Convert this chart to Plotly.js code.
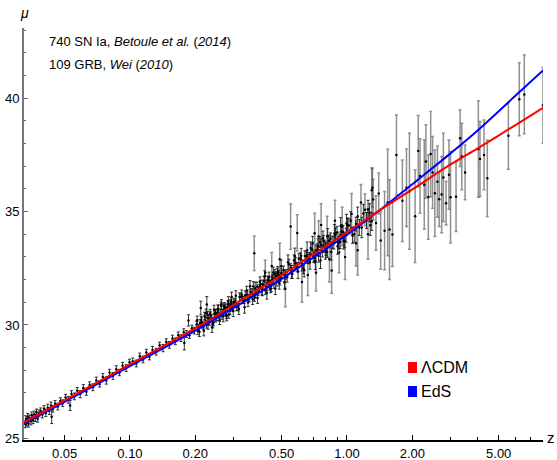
<!DOCTYPE html>
<html><head><meta charset="utf-8">
<script src="https://cdn.plot.ly/plotly-3.0.1.min.js"></script>
<style>html,body{margin:0;padding:0;background:#fff}</style>
</head><body><div id="chart" style="width:557px;height:460px"></div>
<script>
// ---- model curves ----
const curveZ   = [0.0322,0.05,0.1,0.2,0.3,0.5,0.7,1.0,1.3,1.5,2,3,4,6,8];
const lcdmMu   = [25.69,26.67,28.26,29.86,30.88,32.20,33.12,34.09,34.82,35.22,35.98,37.08,37.79,38.83,39.58];
const edsMu    = [25.64,26.61,28.18,29.75,30.75,32.03,32.98,33.98,34.80,35.25,36.21,37.57,38.58,40.13,41.23];

// ---- SN Ia (Betoule et al. 2014) ----
const snZ = [0.0330,0.0332,0.0335,0.0338,0.0341,0.0345,0.0350,0.0353,0.0358,0.0362,0.0367,0.0371,0.0376,0.0381,0.0388,0.0395,0.0402,0.0410,0.0418,0.0425,0.0433,0.0436,0.0442,0.0452,0.0465,0.0478,0.0490,0.0505,0.0520,0.0530,0.0538,0.0555,0.0572,0.0590,0.0610,0.0630,0.0652,0.0675,0.0700,0.0725,0.0750,0.0778,0.0805,0.0835,0.0865,0.0895,0.0925,0.0960,0.0995,
0.103,0.107,0.111,0.115,0.119,0.123,0.127,0.132,0.137,0.142,0.147,0.152,0.157,0.162,0.167,0.172,0.177,0.178,0.182,0.186,0.188,0.193,0.198,
0.203,0.208,0.212,0.213,0.218,0.223,0.226,0.228,0.233,0.238,0.243,0.248,0.253,0.258,0.263,0.268,0.273,0.278,0.283,0.288,0.293,0.298,
0.2055,0.2105,0.2155,0.2205,0.2255,0.2305,0.2355,0.2405,0.2455,0.2505,0.2555,0.2605,0.2655,0.2705,0.2755,0.2805,0.2855,0.2905,0.2955,0.3005,
0.305,0.315,0.325,0.335,0.345,0.355,0.365,0.375,0.385,0.395,0.405,0.415,0.425,0.435,0.445,0.455,0.465,0.475,0.485,0.495,
0.310,0.320,0.330,0.340,0.350,0.360,0.370,0.380,0.390,0.400,0.410,0.420,0.430,0.440,0.450,0.460,0.470,0.480,0.490,0.500,
0.51,0.53,0.55,0.57,0.59,0.61,0.63,0.65,0.67,0.69,0.71,0.73,0.75,0.77,0.79,0.81,0.84,0.87,0.90,0.93,0.96,0.99,
0.52,0.54,0.56,0.58,0.60,0.62,0.64,0.66,0.68,0.70,0.72,0.74,0.76,0.78,0.80,0.825,0.855,0.885,0.915,0.945,0.975,1.005,
1.02,1.06,1.10,1.14,1.19,1.23,1.27,1.30,
0.204,0.209,0.214,0.219,0.224,0.229,0.234,0.239,0.244,0.249,0.254,0.259,0.264,0.269,0.274,0.279,0.284,0.289,0.294,0.299,
0.3075,0.3175,0.3275,0.3375,0.3475,0.3575,0.3675,0.3775,0.3875,0.3975,0.4075,0.4175,0.4275,0.4375,0.4475,0.4575,0.4675,0.4775,0.4875,0.4975,
0.515,0.535,0.555,0.575,0.595,0.615,0.635,0.655,0.675,0.695,0.715,0.735,0.755,0.775,0.795,0.815,0.845,0.875,0.905,0.935,0.965,0.995,
1.04,1.08,1.12,1.17,1.25,1.28];
const snMu = [25.62,25.85,25.70,25.95,25.64,25.88,25.75,26.02,25.80,26.05,25.90,26.15,25.86,26.10,26.20,26.05,26.30,26.12,26.35,26.20,26.45,25.95,26.30,26.52,26.40,26.65,26.55,26.80,26.70,26.45,26.95,26.85,27.10,26.95,27.22,27.05,27.35,27.25,27.55,27.40,27.70,27.55,27.90,27.75,28.05,27.90,28.20,28.10,28.35,
28.40,28.30,28.62,28.48,28.78,28.60,28.90,28.82,29.10,28.98,29.25,29.12,29.40,29.28,29.55,29.42,29.68,29.20,29.60,30.20,29.55,29.85,29.75,
30.02,29.88,30.75,30.22,29.93,30.18,30.90,30.44,30.14,30.31,30.12,30.55,30.53,30.32,30.85,30.54,30.74,30.44,30.91,30.76,31.04,30.74,
29.73,30.09,30.00,30.39,30.01,30.28,30.43,30.04,30.49,30.35,30.72,30.51,30.42,30.82,30.57,30.77,30.46,30.95,30.79,30.99,
31.02,30.80,31.24,31.11,31.52,31.19,31.42,31.20,31.70,31.61,31.50,31.94,31.70,31.96,31.60,32.02,32.26,31.89,32.20,32.13,
30.80,31.23,31.10,31.31,30.99,31.42,31.71,31.38,31.50,31.80,31.78,31.53,31.97,31.75,31.97,31.81,32.16,32.36,31.95,32.26,
32.40,32.11,32.51,32.86,32.55,32.94,32.48,33.02,32.95,33.33,32.96,33.32,33.66,33.23,33.47,33.22,33.80,33.63,34.08,33.67,34.10,33.96,
32.23,32.67,32.25,32.73,32.92,32.63,33.04,32.92,33.40,33.01,33.29,33.04,33.54,33.71,33.35,33.71,33.65,33.99,33.63,34.12,33.70,34.40,
34.39,33.95,34.45,34.30,34.92,34.61,34.95,34.57,
30.21,29.69,30.13,29.74,30.52,30.02,30.50,29.90,30.67,30.31,30.66,30.21,30.91,30.38,30.80,30.38,31.02,30.64,31.23,30.62,
31.29,30.70,31.33,30.78,31.31,31.71,31.12,31.62,31.19,31.91,31.55,32.16,31.42,32.11,31.72,32.31,31.61,32.27,31.84,32.59,
31.88,32.77,32.34,33.04,32.36,33.05,32.41,33.30,32.78,33.61,32.81,33.47,32.84,33.83,33.28,33.91,33.22,34.03,33.47,34.36,33.72,34.48,
34.60,34.00,34.80,34.30,35.10,34.40];
const snErr = [0.15,0.14,0.16,0.15,0.14,0.15,0.16,0.14,0.15,0.15,0.16,0.14,0.15,0.15,0.14,0.15,0.14,0.16,0.15,0.15,0.15,0.30,0.14,0.15,0.15,0.14,0.15,0.14,0.15,0.22,0.15,0.15,0.14,0.16,0.15,0.15,0.14,0.15,0.15,0.14,0.15,0.16,0.14,0.15,0.15,0.14,0.15,0.15,0.14,
0.14,0.15,0.14,0.15,0.15,0.14,0.15,0.15,0.14,0.16,0.14,0.15,0.15,0.15,0.14,0.15,0.15,0.30,0.15,0.25,0.14,0.14,0.15,
0.14,0.15,0.30,0.16,0.14,0.15,0.35,0.16,0.15,0.14,0.16,0.15,0.17,0.15,0.16,0.14,0.15,0.16,0.17,0.15,0.16,0.15,
0.16,0.15,0.14,0.17,0.15,0.16,0.15,0.17,0.16,0.15,0.16,0.14,0.17,0.15,0.16,0.15,0.17,0.16,0.15,0.16,
0.16,0.18,0.17,0.16,0.19,0.17,0.18,0.16,0.19,0.17,0.18,0.20,0.17,0.19,0.18,0.20,0.19,0.18,0.21,0.19,
0.17,0.18,0.16,0.19,0.18,0.17,0.20,0.18,0.19,0.17,0.20,0.19,0.18,0.21,0.19,0.20,0.18,0.22,0.19,0.21,
0.20,0.22,0.19,0.23,0.21,0.24,0.22,0.20,0.25,0.23,0.22,0.26,0.24,0.23,0.27,0.25,0.26,0.28,0.27,0.30,0.28,0.31,
0.21,0.23,0.20,0.24,0.22,0.25,0.23,0.21,0.26,0.24,0.23,0.27,0.25,0.24,0.28,0.26,0.27,0.29,0.28,0.31,0.29,0.32,
0.30,0.35,0.30,0.35,0.40,0.35,0.40,0.40,
0.18,0.20,0.19,0.22,0.18,0.21,0.19,0.23,0.20,0.18,0.22,0.19,0.21,0.24,0.18,0.20,0.23,0.19,0.22,0.25,
0.22,0.24,0.21,0.26,0.23,0.25,0.22,0.27,0.24,0.21,0.26,0.23,0.28,0.22,0.25,0.24,0.27,0.23,0.26,0.28,
0.30,0.32,0.28,0.35,0.31,0.33,0.29,0.36,0.32,0.30,0.37,0.33,0.35,0.31,0.38,0.34,0.36,0.40,0.35,0.38,0.37,0.40,
0.40,0.35,0.40,0.45,0.40,0.45];

// ---- GRB (Wei 2010) ----
const grbZ  = [0.374,0.42,0.45,0.49,0.52,0.55,0.59,0.62,0.66,0.71,0.72,0.74,0.76,0.81,0.83,0.85,0.88,0.92,0.95,0.98,1.05,1.10,1.12,1.16,1.21,1.25,1.30,1.31,1.32,1.36,1.40,1.43,1.49,1.54,1.57,1.62,1.69,1.80,1.88,1.94,2.06,2.13,2.17,2.27,2.31,2.37,2.43,2.48,2.54,2.61,2.66,2.73,2.78,2.86,2.95,3.00,3.18,3.32,3.38,3.50,4.03,4.10,4.28,4.43,5.54,6.22,6.56,8.00];
const grbMu = [33.16,32.30,32.60,32.90,31.60,34.34,34.06,31.90,32.20,34.05,32.30,33.90,34.41,33.90,32.90,32.40,34.60,33.20,34.34,33.00,34.90,33.60,33.30,35.40,35.08,34.00,35.94,36.05,35.53,34.50,35.80,33.73,34.16,35.40,34.21,33.99,37.50,35.48,36.05,35.90,34.80,37.67,36.57,36.19,37.21,35.64,37.54,36.73,35.81,36.32,35.55,35.75,36.51,35.37,36.63,35.63,35.66,38.24,37.43,36.73,37.76,37.32,37.50,36.47,38.35,39.96,40.17,39.69];
const grbErr= [0.76,0.55,0.60,0.70,0.80,1.00,0.80,0.90,0.90,0.88,0.80,0.70,0.94,0.90,1.00,1.00,0.90,0.90,0.85,1.00,0.90,1.00,1.10,0.80,0.70,1.10,1.00,0.85,0.90,1.20,0.90,1.27,1.73,2.35,2.20,1.41,1.76,1.80,1.71,2.56,2.04,1.57,1.64,1.97,1.62,1.86,1.88,1.58,1.91,1.57,1.21,1.68,1.95,0.96,1.53,2.02,1.54,1.25,1.47,1.21,2.13,1.65,1.54,1.69,1.48,1.61,1.74,1.67];

const xTickVals = [0.05,0.1,0.2,0.5,1,2,5];
const xTickText = ['0.05','0.10','0.20','0.50','1.00','2.00','5.00'];
const xMinorVals = [0.04,0.06,0.07,0.08,0.09,0.3,0.4,0.6,0.7,0.8,0.9,3,4,6,7,8];
const yTickVals = [25,30,35,40];

const traces = [
  {x: grbZ, y: grbMu, type:'scatter', mode:'markers',
   marker:{color:'#000', size:2.5},
   error_y:{type:'data', array:grbErr, visible:true, color:'rgba(70,70,70,0.6)', thickness:1.5, width:1.5}},
  {x: snZ, y: snMu, type:'scatter', mode:'markers',
   marker:{color:'#000', size:2.5},
   error_y:{type:'data', array:snErr, visible:true, color:'rgba(15,15,15,0.85)', thickness:1, width:1.5}},
  {x: curveZ, y: edsMu, type:'scatter', mode:'lines', line:{color:'#0000ff', width:2, shape:'spline'}},
  {x: curveZ, y: lcdmMu, type:'scatter', mode:'lines', line:{color:'#ff0000', width:2, shape:'spline'}}
];

const W=557, H=460, L=24, R=14, T=28, B=20;
const pw=W-L-R, ph=H-T-B;
const px = v => (v-L)/pw, py = v => (H-B-v)/ph;

const layout = {
  width:W, height:H, margin:{l:L, r:R, t:T, b:B, pad:0},
  paper_bgcolor:'#fff', plot_bgcolor:'#fff', showlegend:false,
  font:{family:'Liberation Sans, Arial, sans-serif', size:13, color:'#000'},
  xaxis:{type:'log', range:[Math.log10(0.0325), Math.log10(8.0)],
    tickmode:'array', tickvals:xTickVals, ticktext:xTickText,
    ticks:'inside', ticklen:5, tickwidth:1, tickcolor:'#000',
    showline:true, linecolor:'#000', linewidth:2, showgrid:false, zeroline:false,
    minor:{tickmode:'array', tickvals:xMinorVals, ticks:'inside', ticklen:3, tickwidth:1, tickcolor:'#000', showgrid:false},
    tickfont:{size:13}},
  yaxis:{range:[24.925, 43.1], tickmode:'array', tickvals:yTickVals,
    ticks:'inside', ticklen:4, tickwidth:1, tickcolor:'#666',
    showline:true, linecolor:'#777', linewidth:2, showgrid:false, zeroline:false,
    minor:{dtick:1, ticks:'inside', ticklen:2, tickwidth:1, tickcolor:'#666', showgrid:false},
    tickfont:{size:13}},
  shapes:[
    {type:'rect', xref:'paper', yref:'paper', x0:px(408), x1:px(417), y0:py(373), y1:py(362), fillcolor:'#ff0000', line:{width:0}},
    {type:'rect', xref:'paper', yref:'paper', x0:px(408), x1:px(417), y0:py(397), y1:py(386), fillcolor:'#0000ff', line:{width:0}}
  ],
  annotations:[
    {xref:'paper', yref:'paper', x:px(47), y:py(42), xanchor:'left', yanchor:'middle', showarrow:false,
     text:'740 SN Ia, <i>Betoule et al.</i> (<i>2014</i>)', font:{size:13}},
    {xref:'paper', yref:'paper', x:px(47), y:py(65), xanchor:'left', yanchor:'middle', showarrow:false,
     text:'109 GRB, <i>Wei</i> (<i>2010</i>)', font:{size:13}},
    {xref:'paper', yref:'paper', x:px(419), y:py(367), xanchor:'left', yanchor:'middle', showarrow:false,
     text:'ΛCDM', font:{size:16}},
    {xref:'paper', yref:'paper', x:px(419), y:py(391), xanchor:'left', yanchor:'middle', showarrow:false,
     text:'EdS', font:{size:16}},
    {xref:'paper', yref:'paper', x:px(24), y:py(13), xanchor:'center', yanchor:'middle', showarrow:false,
     text:'<i>μ</i>', font:{size:14}},
    {xref:'paper', yref:'paper', x:px(551), y:py(437), xanchor:'center', yanchor:'middle', showarrow:false,
     text:'z', font:{size:15}}
  ]
};

Plotly.newPlot('chart', traces, layout, {staticPlot:true, displayModeBar:false});
</script></body></html>
